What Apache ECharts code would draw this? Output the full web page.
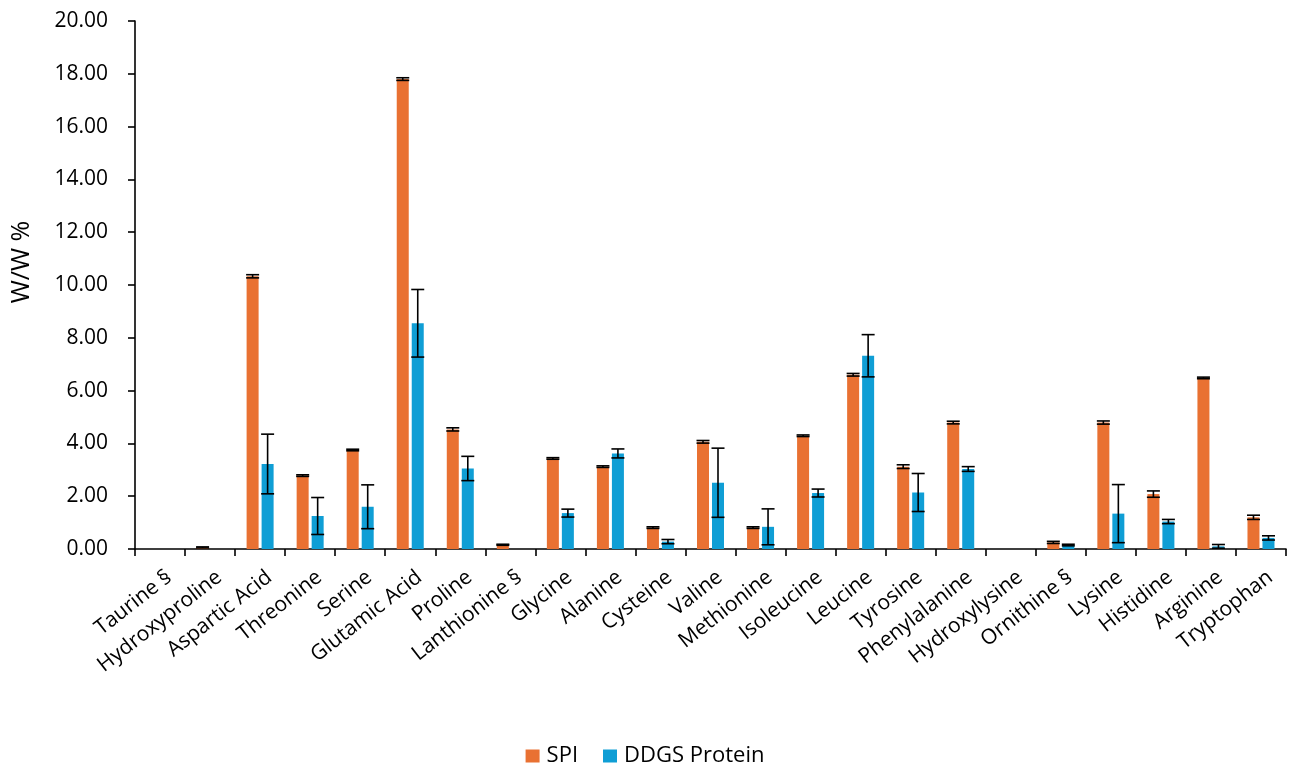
<!DOCTYPE html>
<html>
<head>
<meta charset="utf-8">
<script src="https://cdn.jsdelivr.net/npm/echarts@6/dist/echarts.min.js"></script>
<style>
  html, body { margin: 0; padding: 0; background: #fff; }
  #chart { width: 1290px; height: 767px; }
</style>
</head>
<body>
<div id="chart"></div>
<script>
// Amino acid composition (W/W %) of SPI and DDGS protein, mean ± error
const categories = [
  'Taurine §', 'Hydroxyproline', 'Aspartic Acid', 'Threonine', 'Serine',
  'Glutamic Acid', 'Proline', 'Lanthionine §', 'Glycine', 'Alanine',
  'Cysteine', 'Valine', 'Methionine', 'Isoleucine', 'Leucine', 'Tyrosine',
  'Phenylalanine', 'Hydroxylysine', 'Ornithine §', 'Lysine', 'Histidine',
  'Arginine', 'Tryptophan'
];
const spi = [0, 0.06, 10.33, 2.78, 3.75, 17.80, 4.53, 0.16, 3.43, 3.12,
  0.81, 4.06, 0.81, 4.29, 6.60, 3.12, 4.79, 0, 0.25, 4.79, 2.08, 6.48, 1.20];
const spiErr = [0, 0.02, 0.06, 0.03, 0.03, 0.05, 0.06, 0.02, 0.03, 0.03,
  0.03, 0.05, 0.03, 0.03, 0.05, 0.07, 0.05, 0, 0.04, 0.06, 0.12, 0.03, 0.08];
const ddgs = [0, 0, 3.22, 1.25, 1.60, 8.55, 3.05, 0, 1.36, 3.62,
  0.28, 2.51, 0.84, 2.12, 7.32, 2.14, 3.03, 0, 0.15, 1.34, 1.04, 0.10, 0.42];
const ddgsErr = [0, 0, 1.13, 0.70, 0.83, 1.28, 0.46, 0, 0.15, 0.17,
  0.08, 1.31, 0.68, 0.15, 0.80, 0.72, 0.09, 0, 0.03, 1.10, 0.08, 0.07, 0.08];
const yTicks = ['0.00', '2.00', '4.00', '6.00', '8.00', '10.00', '12.00',
  '14.00', '16.00', '18.00', '20.00'];

const BAR_W = 12;
const BAR_GAP = 3;
const FONT = 'Open Sans';

function errorSeries(name, values, errs, side) {
  return {
    type: 'custom',
    name: name,
    z: 5,
    silent: true,
    data: values.map((v, i) => [i, v, errs[i]]),
    encode: { x: 0, y: 1 },
    renderItem: function (params, api) {
      const i = api.value(0), v = api.value(1), e = api.value(2);
      if (v === 0 && e === 0) return null;
      const c = api.coord([i, v]);
      const x = c[0] + side * (BAR_W + BAR_GAP) / 2;
      const yHi = api.coord([i, v + e])[1];
      const yLo = api.coord([i, Math.max(0, v - e)])[1];
      const cap = 6.5;
      const style = { stroke: '#000', lineWidth: 1.6 };
      return {
        type: 'group',
        children: [
          { type: 'line', shape: { x1: x, y1: yHi, x2: x, y2: yLo }, style: style },
          { type: 'line', shape: { x1: x - cap, y1: yHi, x2: x + cap, y2: yHi }, style: style },
          { type: 'line', shape: { x1: x - cap, y1: yLo, x2: x + cap, y2: yLo }, style: style }
        ]
      };
    }
  };
}

const chart = echarts.init(document.getElementById('chart'), null, { renderer: 'canvas' });
chart.setOption({
  animation: false,
  textStyle: { fontFamily: FONT },
  grid: { left: 135, right: 4, top: 21, bottom: 218, containLabel: false },
  graphic: [{
    type: 'text',
    x: 22,
    y: 262,
    rotation: Math.PI / 2,
    style: {
      text: 'W/W %',
      fontFamily: FONT,
      fontSize: 25,
      fill: '#000',
      align: 'center',
      verticalAlign: 'middle'
    }
  }],
  legend: {
    top: 740,
    left: 'center',
    data: ['SPI', 'DDGS Protein'],
    icon: 'rect',
    itemWidth: 14,
    itemHeight: 13,
    itemGap: 25,
    textStyle: { fontFamily: FONT, fontSize: 22, color: '#000', padding: [0, 0, 0, 2] }
  },
  xAxis: {
    type: 'category',
    data: categories,
    axisLine: { lineStyle: { color: '#000', width: 1.6 } },
    axisTick: { show: true, alignWithLabel: false, length: 7, lineStyle: { color: '#000', width: 1.6 } },
    axisLabel: {
      rotate: 38,
      interval: 0,
      margin: 14,
      fontFamily: FONT,
      fontSize: 21,
      color: '#000',
      formatter: function (v) { return '{t|' + v + '}'; },
      rich: {
        t: { fontFamily: FONT, fontSize: 21, color: '#000', padding: [30, 0, 0, 0] }
      }
    }
  },
  yAxis: {
    type: 'value',
    min: 0,
    max: 20,
    interval: 2,
    splitLine: { show: false },
    axisLine: { show: true, lineStyle: { color: '#000', width: 1.6 } },
    axisTick: { show: true, length: 7, lineStyle: { color: '#000', width: 1.6 } },
    axisLabel: {
      margin: 27,
      fontFamily: FONT,
      fontSize: 21,
      color: '#000',
      formatter: function (v) { return yTicks[Math.round(v / 2)]; }
    }
  },
  series: [
    {
      name: 'SPI',
      type: 'bar',
      data: spi,
      barWidth: BAR_W,
      barGap: (BAR_GAP / BAR_W * 100) + '%',
      itemStyle: { color: '#E97132' }
    },
    {
      name: 'DDGS Protein',
      type: 'bar',
      data: ddgs,
      barWidth: BAR_W,
      itemStyle: { color: '#0F9ED5' }
    },
    errorSeries('SPI error', spi, spiErr, -1),
    errorSeries('DDGS Protein error', ddgs, ddgsErr, 1)
  ]
});
</script>
</body>
</html>
